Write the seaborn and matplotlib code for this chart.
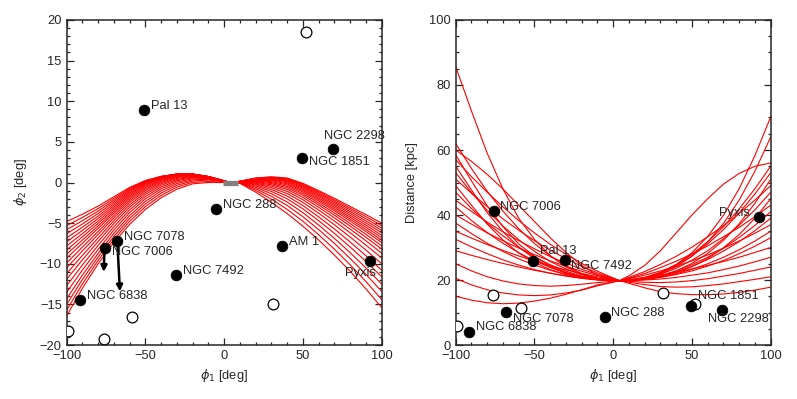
import numpy as np
import pandas as pd
import matplotlib
matplotlib.use("Agg")
import matplotlib.pyplot as plt
import seaborn as sns
from matplotlib.ticker import MultipleLocator

# orbit samples: phi1 nodes, and phi2 / distance of each orbit at those nodes
ORBIT_PHI1 = [-100, -90, -80, -70, -60, -50, -40, -30, -20, -10, 4,
              10, 20, 30, 40, 50, 60, 70, 80, 90, 100]

ORBIT_PHI2 = [
    [-4.8, -3.90, -2.90, -1.75, -0.60, 0.25, 0.75, 1.00, 0.95, 0.65, 0, 0.15, 0.55, 0.70, 0.55, -0.10, -1.00, -1.95, -2.95, -3.95, -5.0],
    [-5.3, -4.30, -3.20, -1.96, -0.71, 0.20, 0.75, 1.03, 0.99, 0.68, 0, 0.15, 0.53, 0.66, 0.48, -0.20, -1.13, -2.12, -3.16, -4.20, -5.3],
    [-5.8, -4.70, -3.51, -2.17, -0.84, 0.15, 0.74, 1.05, 1.02, 0.71, 0, 0.15, 0.51, 0.61, 0.40, -0.31, -1.27, -2.30, -3.37, -4.46, -5.6],
    [-6.3, -5.10, -3.81, -2.38, -0.98, 0.07, 0.71, 1.05, 1.04, 0.72, 0, 0.14, 0.47, 0.55, 0.31, -0.42, -1.42, -2.48, -3.59, -4.72, -5.9],
    [-6.8, -5.50, -4.12, -2.60, -1.12, -0.01, 0.67, 1.04, 1.05, 0.73, 0, 0.14, 0.44, 0.48, 0.21, -0.55, -1.58, -2.67, -3.81, -4.98, -6.2],
    [-7.3, -5.89, -4.42, -2.83, -1.28, -0.11, 0.62, 1.02, 1.05, 0.74, 0, 0.13, 0.40, 0.40, 0.10, -0.69, -1.74, -2.86, -4.04, -5.24, -6.5],
    [-7.8, -6.29, -4.73, -3.06, -1.44, -0.22, 0.55, 0.99, 1.03, 0.74, 0, 0.13, 0.35, 0.31, -0.02, -0.84, -1.92, -3.06, -4.27, -5.50, -6.8],
    [-8.3, -6.68, -5.03, -3.29, -1.62, -0.34, 0.47, 0.94, 1.01, 0.73, 0, 0.12, 0.29, 0.22, -0.16, -1.00, -2.10, -3.27, -4.50, -5.77, -7.1],
    [-8.8, -7.08, -5.34, -3.53, -1.80, -0.48, 0.37, 0.87, 0.97, 0.71, 0, 0.11, 0.23, 0.11, -0.30, -1.17, -2.29, -3.48, -4.74, -6.03, -7.4],
    [-9.3, -7.47, -5.64, -3.77, -2.00, -0.64, 0.26, 0.80, 0.93, 0.69, 0, 0.10, 0.17, -0.01, -0.47, -1.37, -2.52, -3.74, -5.05, -6.38, -7.8],
    [-9.9, -7.94, -6.01, -4.06, -2.22, -0.81, 0.14, 0.72, 0.88, 0.67, 0, 0.09, 0.10, -0.14, -0.65, -1.58, -2.76, -4.02, -5.36, -6.74, -8.2],
    [-10.5, -8.41, -6.38, -4.35, -2.46, -1.00, 0.00, 0.62, 0.82, 0.64, 0, 0.08, 0.01, -0.28, -0.85, -1.83, -3.05, -4.35, -5.74, -7.17, -8.7],
    [-11.2, -8.96, -6.81, -4.69, -2.74, -1.22, -0.16, 0.50, 0.75, 0.61, 0, 0.06, -0.08, -0.45, -1.09, -2.12, -3.39, -4.74, -6.19, -7.70, -9.3],
    [-11.9, -9.51, -7.24, -5.03, -3.03, -1.45, -0.34, 0.37, 0.67, 0.56, 0, 0.05, -0.18, -0.64, -1.36, -2.45, -3.78, -5.20, -6.72, -8.31, -10.0],
    [-12.7, -10.14, -7.73, -5.43, -3.36, -1.72, -0.55, 0.23, 0.57, 0.52, 0, 0.03, -0.30, -0.86, -1.67, -2.84, -4.23, -5.72, -7.33, -9.01, -10.8],
    [-13.5, -10.76, -8.22, -5.83, -3.70, -2.00, -0.77, 0.06, 0.46, 0.46, 0, 0.01, -0.44, -1.10, -2.01, -3.24, -4.70, -6.26, -7.94, -9.71, -11.6],
    [-14.3, -11.38, -8.71, -6.24, -4.06, -2.32, -1.02, -0.13, 0.33, 0.39, 0, -0.01, -0.59, -1.39, -2.40, -3.71, -5.24, -6.88, -8.64, -10.51, -12.5],
    [-15.0, -11.93, -9.14, -6.62, -4.41, -2.63, -1.29, -0.34, 0.18, 0.31, 0, -0.04, -0.77, -1.70, -2.83, -4.21, -5.80, -7.50, -9.35, -11.31, -13.4],
    [-15.7, -12.47, -9.57, -6.99, -4.77, -2.96, -1.57, -0.57, 0.02, 0.12, 0, -0.07, -0.97, -2.05, -3.31, -4.78, -6.43, -8.21, -10.13, -12.19, -14.4],
    [-16.4, -13.01, -10.00, -7.38, -5.15, -3.31, -1.87, -0.82, -0.16, 0.00, 0, -0.10, -1.19, -2.44, -3.83, -5.38, -7.08, -8.93, -10.93, -13.09, -15.4],
]

ORBIT_DIST = [
    [85.6, 72.0, 59.0, 48.0, 39.0, 32.5, 27.5, 24.0, 21.8, 20.5, 19.8, 19.9, 20.6, 22.1, 24.7, 28.4, 33.4, 39.9, 48.1, 58.3, 70.2],
    [62.0, 54.3, 47.3, 41.2, 35.8, 31.2, 27.4, 24.3, 22.0, 20.6, 19.8, 19.9, 20.8, 22.4, 24.8, 27.9, 31.8, 36.4, 41.9, 48.1, 55.0],
    [60.0, 56.5, 52.5, 48.0, 43.0, 38.0, 33.0, 28.5, 24.5, 21.5, 19.8, 21.3, 24.5, 29.0, 34.5, 40.0, 45.0, 49.5, 52.8, 55.0, 56.0],
    [58.5, 50.5, 42.8, 36.4, 31.1, 27.3, 24.3, 22.3, 21.0, 20.2, 19.8, 19.9, 20.5, 21.8, 24.1, 27.3, 31.7, 37.4, 44.6, 53.5, 64.0],
    [57.0, 51.8, 47.0, 42.5, 38.3, 34.5, 31.0, 27.9, 25.1, 22.7, 19.8, 19.0, 17.6, 16.4, 15.8, 15.5, 15.5, 15.7, 16.2, 16.9, 17.8],
    [55.0, 47.7, 40.7, 34.9, 30.1, 26.6, 23.9, 22.1, 20.9, 20.2, 19.8, 19.9, 20.3, 21.2, 22.8, 25.1, 28.2, 32.2, 37.3, 43.6, 51.0],
    [53.0, 46.9, 41.4, 36.6, 32.4, 28.8, 25.7, 23.4, 21.6, 20.4, 19.8, 19.9, 20.7, 22.2, 24.5, 27.4, 31.1, 35.5, 40.6, 46.5, 53.0],
    [51.0, 46.7, 42.6, 38.8, 35.3, 32.1, 29.2, 26.6, 24.2, 22.2, 19.8, 19.3, 18.6, 18.0, 17.8, 17.9, 18.3, 18.8, 19.5, 20.2, 21.0],
    [49.0, 43.0, 37.2, 32.3, 28.3, 25.4, 23.2, 21.7, 20.7, 20.1, 19.8, 19.9, 20.2, 21.0, 22.2, 24.1, 26.6, 29.9, 34.0, 39.0, 45.0],
    [47.0, 42.0, 37.5, 33.6, 30.1, 27.1, 24.7, 22.7, 21.2, 20.3, 19.8, 19.9, 20.6, 21.8, 23.6, 26.1, 29.0, 32.7, 36.9, 41.6, 47.0],
    [44.5, 41.1, 37.8, 34.8, 32.1, 29.6, 27.2, 25.2, 23.3, 21.7, 19.8, 19.6, 19.3, 19.2, 19.4, 19.8, 20.4, 21.2, 22.0, 23.0, 24.0],
    [42.5, 38.3, 34.6, 31.3, 28.4, 25.9, 23.9, 22.2, 21.0, 20.2, 19.8, 19.9, 20.4, 21.3, 22.8, 24.7, 27.0, 29.8, 33.1, 36.8, 41.0],
    [40.0, 37.2, 34.5, 32.1, 29.8, 27.8, 25.9, 24.2, 22.7, 21.4, 19.8, 19.8, 20.0, 20.3, 20.8, 21.5, 22.2, 23.2, 24.3, 25.6, 27.0],
    [37.5, 34.3, 31.3, 28.8, 26.5, 24.6, 23.0, 21.7, 20.7, 20.1, 19.8, 19.9, 20.3, 21.2, 22.5, 24.2, 26.3, 28.9, 31.8, 35.2, 39.0],
    [35.0, 32.9, 30.9, 29.1, 27.4, 25.8, 24.4, 23.1, 22.0, 21.0, 19.8, 19.9, 20.2, 20.8, 21.7, 22.8, 24.3, 26.0, 28.1, 30.4, 33.0],
    [32.5, 30.2, 28.1, 26.2, 24.6, 23.2, 22.1, 21.2, 20.5, 20.0, 19.8, 19.9, 20.2, 20.9, 21.9, 23.3, 25.0, 27.0, 29.3, 32.0, 35.0],
    [29.0, 27.6, 26.3, 25.1, 24.0, 23.0, 22.1, 21.3, 20.6, 20.1, 19.8, 20.4, 21.5, 22.8, 24.2, 25.9, 27.7, 29.8, 32.0, 34.4, 37.0],
    [25.0, 22.8, 21.0, 19.7, 18.8, 18.3, 18.1, 18.3, 18.7, 19.2, 19.8, 20.6, 22.0, 23.8, 25.8, 28.0, 30.5, 33.3, 36.2, 39.5, 43.0],
    [20.5, 18.5, 17.0, 16.0, 15.4, 15.2, 15.4, 16.0, 16.9, 18.2, 19.8, 20.8, 22.6, 24.8, 27.3, 30.1, 33.3, 36.7, 40.5, 44.6, 49.0],
    [15.0, 13.8, 13.0, 12.7, 12.9, 13.5, 14.4, 15.6, 17.0, 18.5, 19.8, 20.1, 20.8, 21.6, 22.4, 23.4, 24.5, 25.7, 27.0, 28.5, 30.0],
]

# progenitor segment
STREAM_PHI1 = [-1, 9]
STREAM_PHI2 = [0, 0]

# labelled globular clusters
CLUSTER_NAMES = ["Pal 13", "NGC 2298", "NGC 1851", "NGC 288", "NGC 7078",
                 "NGC 7006", "AM 1", "NGC 7492", "NGC 6838", "Pyxis"]
CLUSTER_PHI1 = [-50.8, 68.8, 49.5, -5.1, -67.9, -76.0, 36.6, -30.7, -91.4, 92.7]
CLUSTER_PHI2 = [8.9, 4.1, 3.0, -3.3, -7.2, -8.1, -7.8, -11.4, -14.5, -9.7]
CLUSTER_DIST = [25.9, 10.8, 12.0, 8.7, 10.2, 41.1, 123.0, 26.1, 3.9, 39.3]

# unlabelled objects (open circles)
OPEN_PHI1 = [52.1, 31.3, -58.6, -98.9, -76.3]
OPEN_PHI2 = [18.5, -15.0, -16.6, -18.3, -19.2]
OPEN_DIST = [12.6, 16.1, 11.3, 5.7, 15.4]

# proper-motion arrows in the left panel
ARROW_NAMES = ["NGC 7006", "NGC 7078"]
ARROW_END_PHI1 = [-76.5, -66.2]
ARROW_END_PHI2 = [-11.0, -13.4]

# label placement (pixel offset, horizontal alignment)
LEFT_LABELS = {
    "Pal 13": (7, 4, "left"), "NGC 2298": (-9, 13, "left"),
    "NGC 1851": (7, -4, "left"), "NGC 288": (7, 4, "left"),
    "NGC 7078": (7, 4, "left"), "NGC 7006": (7, -4, "left"),
    "AM 1": (7, 4, "left"), "NGC 7492": (7, 4, "left"),
    "NGC 6838": (7, 4, "left"), "Pyxis": (6, -12, "right"),
}
RIGHT_LABELS = {
    "NGC 7006": (6, 4, "left"), "Pyxis": (-9, 4, "right"),
    "Pal 13": (7, 10, "left"), "NGC 7492": (6, -6, "left"),
    "NGC 1851": (7, 10, "left"), "NGC 2298": (-14, -9, "left"),
    "NGC 7078": (7, -7, "left"), "NGC 288": (6, 4, "left"),
    "NGC 6838": (7, 5, "left"), "AM 1": (7, 4, "left"),
}

sns.set_style("ticks")
plt.rcParams["font.family"] = ["Liberation Sans", "DejaVu Sans"]
plt.rcParams["font.size"] = 9.3
plt.rcParams["axes.linewidth"] = 1.1

rows = []
for k, (p2, d) in enumerate(zip(ORBIT_PHI2, ORBIT_DIST)):
    for x, a, b in zip(ORBIT_PHI1, p2, d):
        rows.append({"orbit": k, "phi1": x, "phi2": a, "dist": b})
orbits = pd.DataFrame(rows)

clusters = pd.DataFrame({"name": CLUSTER_NAMES, "phi1": CLUSTER_PHI1,
                         "phi2": CLUSTER_PHI2, "dist": CLUSTER_DIST})
others = pd.DataFrame({"phi1": OPEN_PHI1, "phi2": OPEN_PHI2, "dist": OPEN_DIST})

fig = plt.figure(figsize=(7.97, 3.99), dpi=100)
ax1 = fig.add_axes([0.0837, 0.1353, 0.3952, 0.8146])
ax2 = fig.add_axes([0.5718, 0.1353, 0.3952, 0.8146])


def draw_panel(ax, ycol, labels):
    sns.lineplot(data=orbits, x="phi1", y=ycol, units="orbit", estimator=None,
                 color="red", lw=0.8, ax=ax, legend=False)
    if ycol == "phi2":
        ax.plot(STREAM_PHI1, STREAM_PHI2, color="gray", lw=3.8,
                solid_capstyle="butt", zorder=3)
        for name, ex, ey in zip(ARROW_NAMES, ARROW_END_PHI1, ARROW_END_PHI2):
            row = clusters[clusters.name == name].iloc[0]
            ax.annotate("", xy=(ex, ey), xytext=(row.phi1, row.phi2),
                        arrowprops=dict(arrowstyle="-|>", color="black", lw=1.8,
                                        mutation_scale=9, shrinkA=0, shrinkB=0),
                        zorder=6)
    sns.scatterplot(data=others, x="phi1", y=ycol, s=60, color="white",
                    edgecolor="black", linewidth=0.9, ax=ax, zorder=5)
    sns.scatterplot(data=clusters, x="phi1", y=ycol, s=60, color="black",
                    edgecolor="black", linewidth=0.5, ax=ax, zorder=5)
    for _, r in clusters.iterrows():
        dx, dy, ha = labels[r["name"]]
        ax.annotate(r["name"], xy=(r.phi1, r[ycol]), xytext=(dx, dy),
                    textcoords="offset pixels", ha=ha, va="center",
                    fontsize=9.3, zorder=7)
    ax.set_xlim(-100, 100)
    ax.xaxis.set_major_locator(MultipleLocator(50))
    ax.xaxis.set_minor_locator(MultipleLocator(10))
    ax.tick_params(which="both", direction="in", top=True, right=True,
                   width=0.9, labelsize=9.3)
    ax.tick_params(which="major", length=5)
    ax.tick_params(which="minor", length=2.5)
    ax.set_xlabel(r"$\phi_1$ [deg]")


draw_panel(ax1, "phi2", LEFT_LABELS)
ax1.set_ylim(-20, 20)
ax1.yaxis.set_major_locator(MultipleLocator(5))
ax1.yaxis.set_minor_locator(MultipleLocator(1))
ax1.set_ylabel(r"$\phi_2$ [deg]", labelpad=8)

draw_panel(ax2, "dist", RIGHT_LABELS)
ax2.set_ylim(0, 100)
ax2.yaxis.set_major_locator(MultipleLocator(20))
ax2.yaxis.set_minor_locator(MultipleLocator(5))
ax2.set_ylabel("Distance [kpc]", labelpad=8)

fig.savefig("out.png", dpi=100)
